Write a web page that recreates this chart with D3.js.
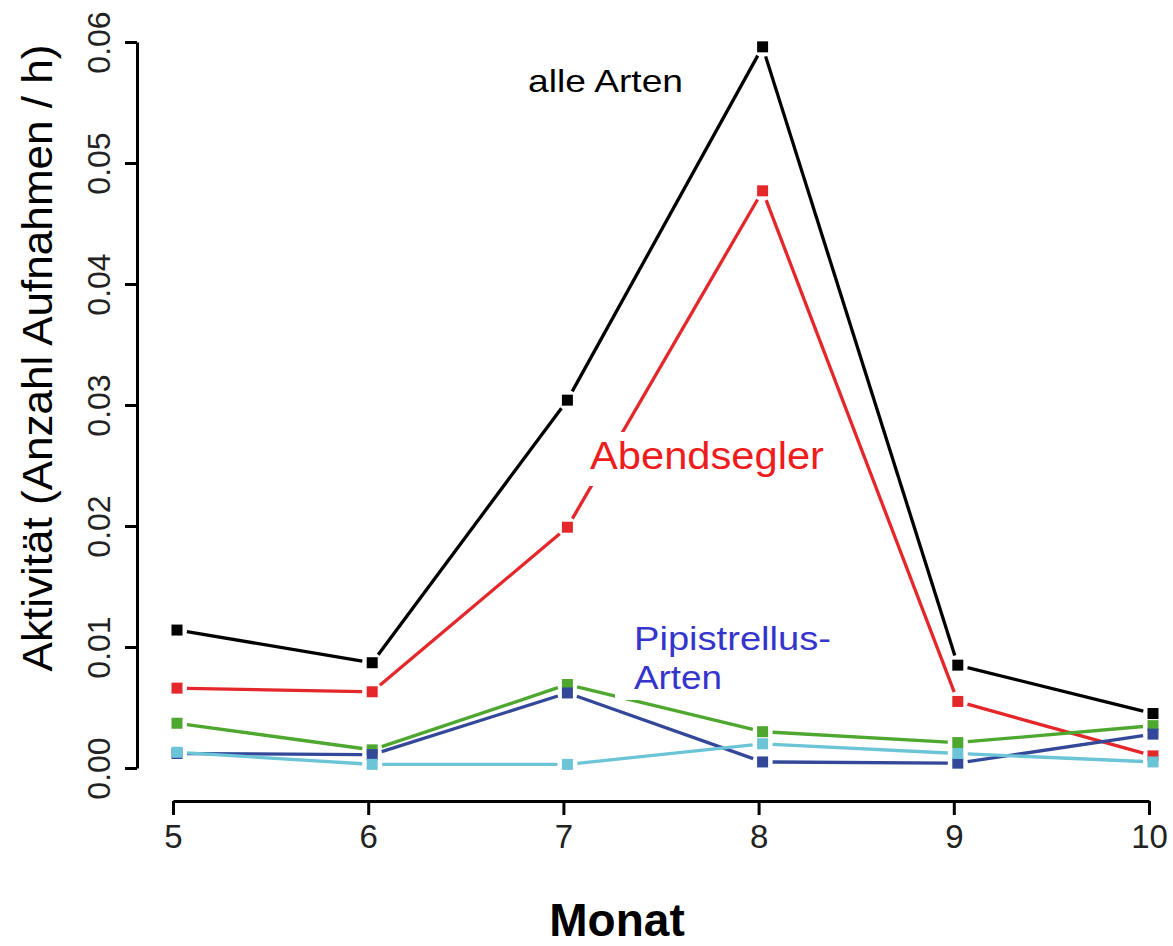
<!DOCTYPE html>
<html>
<head>
<meta charset="utf-8">
<script src="https://cdn.jsdelivr.net/npm/d3@7/dist/d3.min.js"></script>
<style>
  body { margin: 0; background: #fff; }
  text { font-family: "Liberation Sans", Arial, sans-serif; }
</style>
</head>
<body>
<svg id="chart" width="1173" height="946"></svg>
<script>
// Monthly bat activity (recordings per hour)
const months = [5, 6, 7, 8, 9, 10];
const alleArten    = [0.0114, 0.0087, 0.0304, 0.0596, 0.0085, 0.0045];
const abendsegler  = [0.0066, 0.0063, 0.0199, 0.0477, 0.0055, 0.0010];
const gruenArt     = [0.0037, 0.0015, 0.0069, 0.0030, 0.0021, 0.0035];
const pipistrellus = [0.0012, 0.0011, 0.0062, 0.0005, 0.0004, 0.0028];
const tuerkisArt   = [0.0013, 0.0003, 0.0003, 0.0020, 0.0012, 0.0005];
const yTicks = [0, 0.01, 0.02, 0.03, 0.04, 0.05, 0.06];
const xTicks = months;

const seriesList = [
  { values: alleArten,    color: "#000000" },
  { values: abendsegler,  color: "#e4272a" },
  { values: gruenArt,     color: "#4ea72e" },
  { values: pipistrellus, color: "#34489a" },
  { values: tuerkisArt,   color: "#6cc4d7" }
];

const svg = d3.select("#chart");

const x = d3.scaleLinear().domain([5, 10]).range([173, 1149]);
const y = d3.scaleLinear().domain([0, 0.06]).range([768, 42]);

// y axis
const yAxis = svg.append("g")
  .attr("transform", "translate(137,0)")
  .call(d3.axisLeft(y).tickValues(yTicks).tickSize(12).tickSizeOuter(0)
        .tickFormat(d3.format(".2f")));
yAxis.select(".domain").attr("stroke", "#000").attr("stroke-width", 3);
yAxis.selectAll(".tick line").attr("stroke", "#000").attr("stroke-width", 3);
yAxis.selectAll(".tick text")
  .attr("transform", "rotate(-90)")
  .attr("x", 0).attr("y", -27).attr("dy", 0)
  .attr("text-anchor", "middle")
  .attr("fill", "#222")
  .style("font-size", "32px");

// x axis
const xAxis = svg.append("g")
  .attr("transform", "translate(0,801)")
  .call(d3.axisBottom(x).tickValues(xTicks).tickSize(14).tickSizeOuter(0)
        .tickFormat(d3.format("d")));
xAxis.select(".domain").attr("stroke", "#000").attr("stroke-width", 3);
xAxis.selectAll(".tick line").attr("stroke", "#000").attr("stroke-width", 3);
xAxis.selectAll(".tick text")
  .attr("y", 47).attr("dy", 0)
  .attr("fill", "#222")
  .style("font-size", "33px");

svg.selectAll(".tick text").style("font-family", "'Liberation Sans', Arial, sans-serif");

// axis titles
svg.append("text")
  .attr("transform", "translate(52,358) rotate(-90)")
  .attr("text-anchor", "middle")
  .attr("textLength", 627).attr("lengthAdjust", "spacingAndGlyphs")
  .style("font-size", "42px")
  .text("Aktivität (Anzahl Aufnahmen / h)");

svg.append("text")
  .attr("x", 617).attr("y", 936)
  .attr("text-anchor", "middle")
  .style("font-size", "46px").style("font-weight", "bold")
  .text("Monat");

// data layer: lines broken around each point, then square markers
const plot = svg.append("g").attr("transform", "translate(4,0)");
const gap = 10;

seriesList.forEach(s => {
  const pts = months.map((m, i) => [x(m), y(s.values[i])]);
  const segs = [];
  for (let i = 0; i < pts.length - 1; i++) {
    const [x1, y1] = pts[i], [x2, y2] = pts[i + 1];
    const dx = x2 - x1, dy = y2 - y1, len = Math.hypot(dx, dy);
    if (len > 2 * gap) {
      const ux = dx / len, uy = dy / len;
      segs.push([x1 + ux * gap, y1 + uy * gap, x2 - ux * gap, y2 - uy * gap]);
    }
  }
  plot.append("g").selectAll("line").data(segs).join("line")
    .attr("x1", d => d[0]).attr("y1", d => d[1])
    .attr("x2", d => d[2]).attr("y2", d => d[3])
    .attr("stroke", s.color).attr("stroke-width", 3.3);
});

seriesList.forEach(s => {
  plot.append("g").selectAll("rect").data(months).join("rect")
    .attr("x", (m) => x(m) - 5.5)
    .attr("y", (m, i) => y(s.values[i]) - 5.5)
    .attr("width", 11).attr("height", 11)
    .attr("fill", s.color);
});

// series labels on white boxes
const labels = svg.append("g");
labels.append("text")
  .attr("x", 528).attr("y", 92)
  .attr("textLength", 155).attr("lengthAdjust", "spacingAndGlyphs")
  .style("font-size", "32px").attr("fill", "#000")
  .text("alle Arten");

labels.append("rect")
  .attr("x", 585).attr("y", 432).attr("width", 255).attr("height", 54)
  .attr("fill", "#fff");
labels.append("text")
  .attr("x", 590).attr("y", 469)
  .attr("textLength", 234).attr("lengthAdjust", "spacingAndGlyphs")
  .style("font-size", "38px").attr("fill", "#ee1c1c")
  .text("Abendsegler");

labels.append("rect")
  .attr("x", 615).attr("y", 612).attr("width", 225).attr("height", 88)
  .attr("fill", "#fff");
labels.append("text")
  .attr("x", 634).attr("y", 650)
  .attr("textLength", 197).attr("lengthAdjust", "spacingAndGlyphs")
  .style("font-size", "34px").attr("fill", "#3535cc")
  .text("Pipistrellus-");
labels.append("text")
  .attr("x", 634).attr("y", 689)
  .attr("textLength", 88).attr("lengthAdjust", "spacingAndGlyphs")
  .style("font-size", "34px").attr("fill", "#3535cc")
  .text("Arten");
</script>
</body>
</html>
